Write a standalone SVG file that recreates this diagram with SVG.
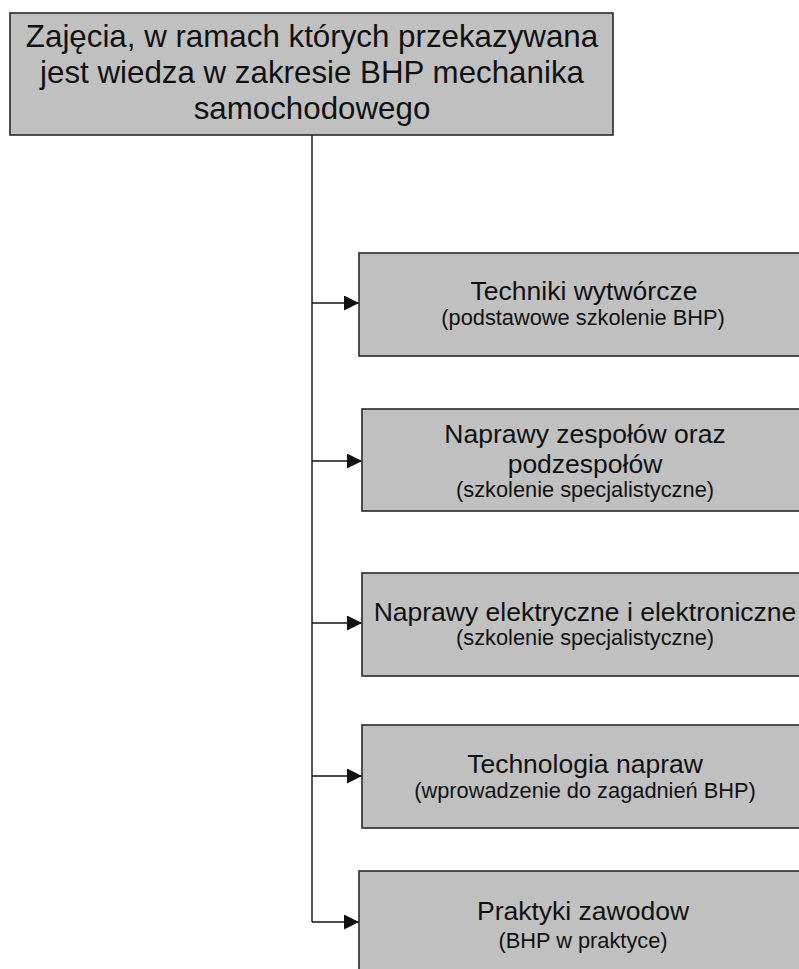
<svg xmlns="http://www.w3.org/2000/svg" width="799" height="969" viewBox="0 0 799 969">
  <defs>
    <style>
      .box { fill: #c0c0c0; stroke: #2a2a2a; stroke-width: 1.6; }
      .t { font-family: "Liberation Sans", Arial, sans-serif; fill: #111; text-anchor: middle; }
      .top { font-size: 31.3px; }
      .title { font-size: 26.5px; }
      .sub { font-size: 21.8px; }
      .conn { stroke: #111; stroke-width: 1.4; fill: none; }
    </style>
    <marker id="arrow" markerUnits="userSpaceOnUse" markerWidth="15" markerHeight="15" refX="15" refY="7.5" orient="auto">
      <path d="M0,0 L15,7.5 L0,15 Z" fill="#111"/>
    </marker>
  </defs>
  <rect width="799" height="969" fill="#ffffff"/>

  <g id="connectors">
    <path class="conn" d="M312,135 V922"/>
    <path class="conn" d="M312,303 H359" marker-end="url(#arrow)"/>
    <path class="conn" d="M312,461 H362" marker-end="url(#arrow)"/>
    <path class="conn" d="M312,623 H362" marker-end="url(#arrow)"/>
    <path class="conn" d="M312,776 H362" marker-end="url(#arrow)"/>
    <path class="conn" d="M312,922 H359" marker-end="url(#arrow)"/>
  </g>

  <g id="root">
    <rect class="box" x="10" y="13" width="603" height="122"/>
    <text class="t top" x="312" y="47">Zajęcia, w ramach których przekazywana</text>
    <text class="t top" x="312" y="83">jest wiedza w zakresie BHP mechanika</text>
    <text class="t top" x="312" y="119">samochodowego</text>
  </g>

  <g id="node1">
    <rect class="box" x="359" y="253" width="460" height="103"/>
    <text class="t title" x="584" y="300">Techniki wytwórcze</text>
    <text class="t sub" x="583" y="325">(podstawowe szkolenie BHP)</text>
  </g>

  <g id="node2">
    <rect class="box" x="362" y="409" width="460" height="102"/>
    <text class="t title" x="585" y="443">Naprawy zespołów oraz</text>
    <text class="t title" x="585" y="473">podzespołów</text>
    <text class="t sub" x="585" y="497">(szkolenie specjalistyczne)</text>
  </g>

  <g id="node3">
    <rect class="box" x="362" y="573" width="460" height="103"/>
    <text class="t title" x="585" y="621">Naprawy elektryczne i elektroniczne</text>
    <text class="t sub" x="585" y="645">(szkolenie specjalistyczne)</text>
  </g>

  <g id="node4">
    <rect class="box" x="362" y="725" width="460" height="103"/>
    <text class="t title" x="585" y="773">Technologia napraw</text>
    <text class="t sub" x="585" y="798">(wprowadzenie do zagadnień BHP)</text>
  </g>

  <g id="node5">
    <rect class="box" x="359" y="871" width="460" height="120"/>
    <text class="t title" x="583" y="920">Praktyki zawodow</text>
    <text class="t sub" x="583" y="948">(BHP w praktyce)</text>
  </g>
</svg>
